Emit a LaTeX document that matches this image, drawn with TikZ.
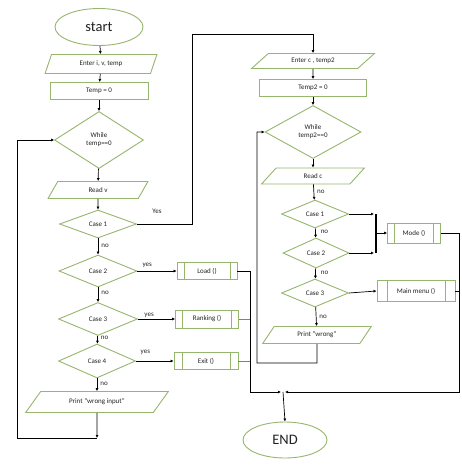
\documentclass[tikz,border=0pt]{standalone}
\usepackage{fontspec}
\setmainfont{Carlito}
\usetikzlibrary{shapes.geometric,arrows.meta}
\definecolor{gline}{RGB}{150,182,110}
\definecolor{txt}{RGB}{35,35,35}
\begin{document}
\begin{tikzpicture}[x=1pt,y=-1pt,
  base/.style={draw=gline, line width=0.9pt, fill=white, text=txt,
    font=\fontsize{7}{8}\selectfont, inner sep=0pt, align=center},
  term/.style={base, ellipse, font=\fontsize{14.5}{16}\selectfont},
  io/.style={base, trapezium, trapezium stretches=true,
    trapezium left angle=#1, trapezium right angle=180-#1},
  proc/.style={base, rectangle},
  dec/.style={base, diamond},
  sub/.style={base, rectangle, path picture={
    \draw[gline, line width=0.9pt]
      ([xshift=#1]path picture bounding box.north west) -- ([xshift=#1]path picture bounding box.south west)
      ([xshift=-#1]path picture bounding box.north east) -- ([xshift=-#1]path picture bounding box.south east);}},
  conn/.style={line width=0.7pt, draw=black},
  arr/.style={conn, -{Latex[length=3pt,width=3pt]}},
  lab/.style={font=\fontsize{7}{8}\selectfont, text=txt, inner sep=0pt}
]
\useasboundingbox (0,0) rectangle (461,470);

% ---- left column ----
\node[term, minimum width=88pt, minimum height=37pt] (start) at (99,27) {start};
\node[io=65, minimum width=112pt, minimum height=19pt] (in1) at (101,64) {Enter i, v, temp};
\node[proc, minimum width=98pt, minimum height=17pt] (t0) at (99,91) {Temp = 0};
\node[dec, minimum width=89pt, minimum height=57pt] (w1) at (99,140) {While\\temp==0};
\node[io=65, minimum width=100pt, minimum height=17pt] (rv) at (98,190) {Read v};
\node[dec, minimum width=77pt, minimum height=28pt] (c1) at (98,224) {Case 1};
\node[dec, minimum width=78pt, minimum height=32pt] (c2) at (98,271) {Case 2};
\node[dec, minimum width=79pt, minimum height=33pt] (c3) at (98,319) {Case 3};
\node[dec, minimum width=77pt, minimum height=34pt] (c4) at (97,361) {Case 4};
\node[io=40, minimum width=143pt, minimum height=21pt] (pw) at (97,402) {Print “wrong input”};
\node[sub=7pt, minimum width=60pt, minimum height=17pt] (load) at (207,271) {Load ()};
\node[sub=7pt, minimum width=63pt, minimum height=18pt] (rank) at (207,319) {Ranking ()};
\node[sub=8pt, minimum width=64pt, minimum height=17pt] (exit) at (206,361) {Exit ()};

% ---- right column ----
\node[io=35, minimum width=123pt, minimum height=15pt] (in2) at (313,61) {Enter c , temp2};
\node[proc, minimum width=107pt, minimum height=17pt] (t2) at (313,88) {Temp2 = 0};
\node[dec, minimum width=96pt, minimum height=53pt] (w2) at (313,132) {While\\temp2==0};
\node[io=53, minimum width=103pt, minimum height=16pt] (rc) at (313,176) {Read c};
\node[dec, minimum width=67pt, minimum height=28pt] (d1) at (315,214) {Case 1};
\node[dec, minimum width=66pt, minimum height=30pt] (d2) at (316,253) {Case 2};
\node[dec, minimum width=67pt, minimum height=28pt] (d3) at (315,293) {Case 3};
\node[io=50, minimum width=109pt, minimum height=17pt] (pw2) at (317,335) {Print “wrong”};
\node[sub=7pt, minimum width=53pt, minimum height=20pt] (mode) at (414,233) {Mode ()};
\node[sub=10pt, minimum width=78pt, minimum height=21pt] (menu) at (416,291) {Main menu ()};
\node[term, minimum width=84pt, minimum height=36pt] (end) at (285,440) {END};

% ---- helper coordinates ----
\coordinate (k1) at (192,34);
\coordinate (b1) at (97,438);
\coordinate (lp) at (17,438);
\coordinate (j1) at (250,392);
\coordinate (jl) at (281,392);
\coordinate (jm) at (283,392);
\coordinate (jr) at (285,392);
\coordinate (rr) at (459,392);
\coordinate (bx) at (376,214);
\coordinate (by) at (376,253);
\coordinate (bm) at (376,233);
\coordinate (b2) at (317,363);
\coordinate (lp2) at (257,363);

% ---- left connectors ----
\draw[arr] (start) -- (in1);
\draw[arr] (in1) -- (t0);
\draw[arr] (t0) -- (w1);
\draw[arr] (w1) -- (rv);
\draw[arr] (rv) -- (c1);
\draw[arr] (c1) -- node[lab, right=3pt, pos=0.45] {no} (c2);
\draw[arr] (c2) -- node[lab, right=3pt, pos=0.4] {no} (c3);
\draw[arr] (c3) -- node[lab, right=3pt, pos=0.3] {no} (c4);
\draw[arr] (c4) -- node[lab, right=3pt, pos=0.45] {no} (pw);
\draw[arr] (c2.east) -- node[lab, above=3pt, pos=0.25] {yes} (load.west);
\draw[arr] (c3.east) -- node[lab, above=1pt, pos=0.3] {yes} (rank.west);
\draw[arr] (c4.east) -- node[lab, above=6pt, pos=0.25] {yes} (exit.west);
\draw[arr] (c1.east) -| (k1) -| (in2.north);
\node[lab] (yes1) at (157,211) {Yes};
\draw[arr] (pw.south) -- (b1);
\draw[arr] (b1) -- (lp) |- (w1.west);
\draw[arr] (load.east) -| (j1) -- (jl);
\draw[conn, draw=gray] (rank.east) -- (rank.east -| j1);
\draw[conn, draw=gray] (exit.east) -- (exit.east -| j1);

% ---- right connectors ----
\draw[arr] (in2) -- (t2);
\draw[arr] (t2) -- (w2);
\draw[arr] (w2) -- (rc);
\draw[arr] (rc) -- node[lab, right=3pt] {no} (d1);
\draw[arr] (d1) -- node[lab, right=5pt, pos=0.4] {no} (d2);
\draw[arr] (d2) -- node[lab, right=5pt, pos=0.4] {no} (d3);
\draw[arr] (d3) -- node[lab, right=3pt, pos=0.5] {no} (pw2);
\draw[arr] (d1.east) -- ([xshift=-2pt]bx);
\draw[arr] (d2.east) -- ([xshift=-2pt]by);
\draw[line width=1.2pt] (bx) -- (by);
\draw[arr] (bm) -- (mode.west);
\draw[arr] (d3.east) -- (menu.west);
\draw[arr] (pw2.south) -- (b2) -- (lp2) |- (w2.west);
\draw[arr] (mode.east) -| (rr) -- (jr);
\draw[conn] (menu.east) -- (menu.east -| rr);
\draw[arr] (jm) -- (end.north);
\end{tikzpicture}
\end{document}
